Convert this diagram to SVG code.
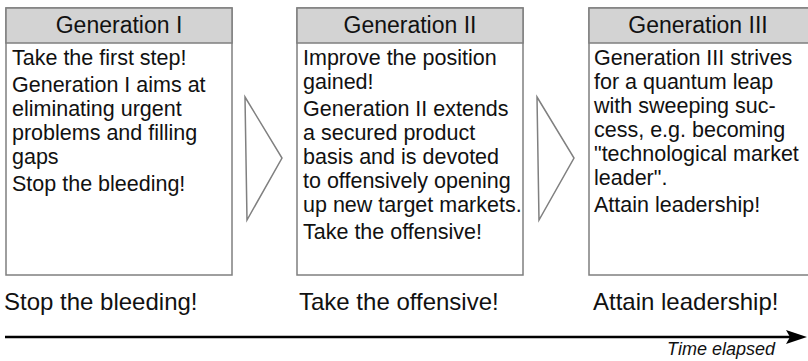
<svg xmlns="http://www.w3.org/2000/svg" width="808" height="361" viewBox="0 0 808 361">
  <defs>
    <style>
      text { font-family: "Liberation Sans", Arial, sans-serif; fill: #111; }
      .frame { fill: #fff; stroke: #7f7f7f; stroke-width: 1.5; }
      .head { fill: #d3d3d3; stroke: #7f7f7f; stroke-width: 1.5; }
      .title { font-size: 23px; text-anchor: middle; }
      .body { font-size: 21.5px; }
      .motto { font-size: 24px; }
      .chev { fill: none; stroke: #808080; stroke-width: 1.5; stroke-linejoin: miter; }
      .axis { stroke: #000; stroke-width: 2.5; fill: none; }
      .axislabel { font-size: 18px; font-style: italic; text-anchor: end; }
    </style>
  </defs>

  <!-- Generation I -->
  <g id="gen1">
    <rect class="frame" x="6" y="8" width="226" height="267"/>
    <rect class="head" x="6" y="8" width="226" height="35"/>
    <text class="title" x="119" y="33">Generation I</text>
    <text class="body">
      <tspan x="12" y="65">Take the first step!</tspan>
      <tspan x="12" y="92">Generation I aims at</tspan>
      <tspan x="12" y="116">eliminating urgent</tspan>
      <tspan x="12" y="140">problems and filling</tspan>
      <tspan x="12" y="164">gaps</tspan>
      <tspan x="12" y="191">Stop the bleeding!</tspan>
    </text>
    <text class="motto" x="4" y="310">Stop the bleeding!</text>
  </g>

  <!-- Generation II -->
  <g id="gen2">
    <rect class="frame" x="297" y="8" width="226" height="267"/>
    <rect class="head" x="297" y="8" width="226" height="35"/>
    <text class="title" x="410" y="33">Generation II</text>
    <text class="body">
      <tspan x="303" y="65">Improve the position</tspan>
      <tspan x="303" y="89">gained!</tspan>
      <tspan x="303" y="116">Generation II extends</tspan>
      <tspan x="303" y="140">a secured product</tspan>
      <tspan x="303" y="164">basis and is devoted</tspan>
      <tspan x="303" y="188">to offensively opening</tspan>
      <tspan x="303" y="212">up new target markets.</tspan>
      <tspan x="303" y="239">Take the offensive!</tspan>
    </text>
    <text class="motto" x="299" y="310">Take the offensive!</text>
  </g>

  <!-- Generation III -->
  <g id="gen3">
    <rect class="frame" x="589" y="8" width="226" height="267"/>
    <rect class="head" x="589" y="8" width="226" height="35"/>
    <text class="title" x="698" y="33">Generation III</text>
    <text class="body">
      <tspan x="594" y="65">Generation III strives</tspan>
      <tspan x="594" y="89">for a quantum leap</tspan>
      <tspan x="594" y="113">with sweeping suc-</tspan>
      <tspan x="594" y="137">cess, e.g. becoming</tspan>
      <tspan x="594" y="161">"technological market</tspan>
      <tspan x="594" y="185">leader".</tspan>
      <tspan x="594" y="212">Attain leadership!</tspan>
    </text>
    <text class="motto" x="593" y="310">Attain leadership!</text>
  </g>

  <!-- step chevrons and time axis -->
  <g id="connectors">
    <polygon class="chev" points="245,97 282,158 247,220"/>
    <polygon class="chev" points="537,97 574,158 539,220"/>
    <line class="axis" x1="5" y1="337" x2="792" y2="337"/>
    <polygon points="786,330 807,337 786,344 790,337" fill="#000"/>
    <text class="axislabel" x="775" y="355">Time elapsed</text>
  </g>
</svg>
